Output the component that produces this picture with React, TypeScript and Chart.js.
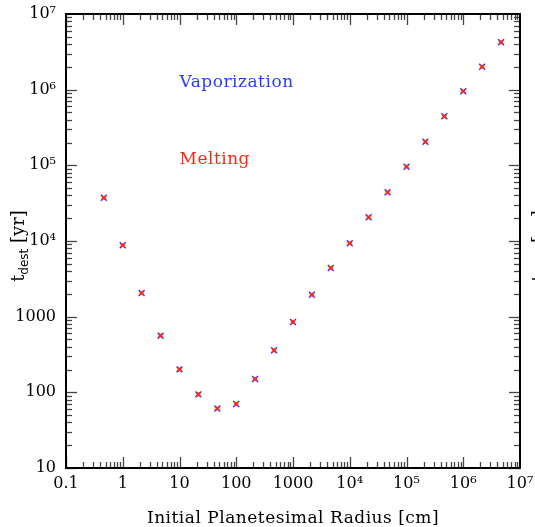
import React, { useEffect, useRef } from "react";
import { Chart, registerables } from "chart.js";

Chart.register(...registerables);

// ---- data ----
const radiusCm = [
  0.464, 1, 2.15, 4.64, 10, 21.5, 46.4, 100, 215, 464, 1000, 2150, 4640,
  10000, 21500, 46400, 100000, 215000, 464000, 1000000, 2150000, 4640000,
];
const tVaporization = [
  37300, 8770, 2055, 561, 201, 94, 61, 70, 150, 359, 850, 1950, 4400, 9320,
  20600, 44000, 95900, 205000, 445000, 951000, 2010000, 4230000,
];
const tMelting = [
  37300, 8770, 2055, 561, 201, 94, 61, 70, 150, 359, 850, 1950, 4400, 9320,
  20600, 44000, 95900, 205000, 445000, 951000, 2010000, 4230000,
];
const xTickValues = [0.1, 1, 10, 100, 1000, 1e4, 1e5, 1e6, 1e7];
const xTickLabels = ["0.1", "1", "10", "100", "1000", "10\u2074", "10\u2075", "10\u2076", "10\u2077"];
const yTickValues = [10, 100, 1000, 1e4, 1e5, 1e6, 1e7];
const yTickLabels = ["10", "100", "1000", "10\u2074", "10\u2075", "10\u2076", "10\u2077"];
const xTitle = "Initial Planetesimal Radius [cm]";
const vapLabel = { text: "Vaporization", x: 10, y: 1.08e6 };
const meltLabel = { text: "Melting", x: 10, y: 1.04e5 };

const BLUE = "rgb(40,60,255)";
const RED = "rgb(255,40,20)";
const FONT = "'DejaVu Serif', serif";

const decorPlugin = {
  id: "decor",
  afterDraw(chart: any) {
    const { ctx, chartArea: a, scales } = chart;
    const xs = scales.x;
    const ys = scales.y;
    ctx.save();
    const line = (x1: number, y1: number, x2: number, y2: number) => {
      ctx.beginPath();
      ctx.moveTo(x1, y1);
      ctx.lineTo(x2, y2);
      ctx.stroke();
    };
    ctx.strokeStyle = "#444";
    ctx.lineWidth = 1.3;
    for (let d = -1; d <= 6; d++) {
      for (let m = 1; m <= 9; m++) {
        const v = m * Math.pow(10, d);
        const px = Math.round(xs.getPixelForValue(v)) + 0.5;
        const len = m === 1 ? 11 : 6;
        line(px, a.bottom, px, a.bottom - len);
        line(px, a.top, px, a.top + len);
      }
    }
    for (let d = 1; d <= 6; d++) {
      for (let m = 1; m <= 9; m++) {
        const v = m * Math.pow(10, d);
        const py = Math.round(ys.getPixelForValue(v)) + 0.5;
        const len = m === 1 ? 11 : 6;
        line(a.left, py, a.left + len, py);
        line(a.right, py, a.right - len, py);
      }
    }
    ctx.strokeStyle = "#000";
    ctx.lineWidth = 2;
    ctx.strokeRect(a.left, a.top, a.right - a.left, a.bottom - a.top);

    // in-plot labels
    ctx.font = `17px ${FONT}`;
    (ctx as any).letterSpacing = "0.5px";
    ctx.textAlign = "left";
    ctx.textBaseline = "alphabetic";
    ctx.fillStyle = BLUE;
    ctx.fillText(vapLabel.text, xs.getPixelForValue(vapLabel.x), ys.getPixelForValue(vapLabel.y));
    ctx.fillStyle = RED;
    ctx.fillText(meltLabel.text, xs.getPixelForValue(meltLabel.x), ys.getPixelForValue(meltLabel.y));

    // x axis title
    ctx.fillStyle = "#000";
    ctx.textAlign = "center";
    ctx.fillText(xTitle, (a.left + a.right) / 2, 523);
    (ctx as any).letterSpacing = "0px";

    // y axis title: t_dest [yr]
    const drawYTitle = (baseX: number, centerY: number) => {
      ctx.save();
      ctx.translate(baseX, centerY);
      ctx.rotate(-Math.PI / 2);
      ctx.fillStyle = "#000";
      ctx.textAlign = "left";
      ctx.textBaseline = "alphabetic";
      const big = `18px ${FONT}`;
      const small = `12px 'DejaVu Sans', sans-serif`;
      ctx.font = big;
      const wT = ctx.measureText("t").width;
      const wB = ctx.measureText(" [yr]").width;
      ctx.font = small;
      const wS = ctx.measureText("dest").width;
      let x0 = -(wT + wS + wB) / 2;
      ctx.font = big;
      ctx.fillText("t", x0, 0);
      x0 += wT;
      ctx.font = small;
      ctx.fillText("dest", x0, 4);
      x0 += wS;
      ctx.font = big;
      ctx.fillText(" [yr]", x0, 0);
      ctx.restore();
    };
    drawYTitle(24, 246);
    drawYTitle(24 + 521, 246);
    ctx.restore();
  },
};

export default function App() {
  const ref = useRef<HTMLCanvasElement | null>(null);
  useEffect(() => {
    if (!ref.current) return;
    const chart = new Chart(ref.current, {
      type: "scatter",
      data: {
        datasets: [
          {
            label: "Melting",
            data: radiusCm.map((r, i) => ({ x: r, y: tMelting[i] })),
            pointStyle: "crossRot",
            radius: 2.6,
            borderWidth: 2,
            borderColor: RED,
            backgroundColor: RED,
            order: 0,
          },
          {
            label: "Vaporization",
            data: radiusCm.map((r, i) => ({ x: r, y: tVaporization[i] })),
            pointStyle: "crossRot",
            radius: 4.2,
            borderWidth: 1.4,
            borderColor: BLUE,
            backgroundColor: BLUE,
            order: 1,
          },
        ],
      },
      options: {
        responsive: false,
        animation: false,
        events: [],
        layout: { padding: { left: 0, right: 15, top: 14, bottom: 0 } },
        plugins: { legend: { display: false }, tooltip: { enabled: false } },
        scales: {
          x: {
            type: "logarithmic",
            min: 0.1,
            max: 1e7,
            grid: { display: false, drawTicks: false },
            border: { display: false },
            afterBuildTicks: (s: any) => {
              s.ticks = xTickValues.map((v) => ({ value: v }));
            },
            afterFit: (s: any) => {
              s.height = 59;
              s.paddingLeft = 0;
              s.paddingRight = 0;
            },
            ticks: {
              autoSkip: false,
              maxRotation: 0,
              padding: 6,
              color: "#000",
              font: { family: FONT, size: 16 },
              callback: (v: any) => {
                const i = xTickValues.findIndex((t) => Math.abs(Math.log10(t) - Math.log10(v)) < 1e-6);
                return i >= 0 ? xTickLabels[i] : "";
              },
            },
          },
          y: {
            type: "logarithmic",
            min: 10,
            max: 1e7,
            grid: { display: false, drawTicks: false },
            border: { display: false },
            afterBuildTicks: (s: any) => {
              s.ticks = yTickValues.map((v) => ({ value: v }));
            },
            afterFit: (s: any) => {
              s.width = 66;
              s.paddingTop = 0;
              s.paddingBottom = 0;
            },
            ticks: {
              autoSkip: false,
              padding: 10,
              color: "#000",
              font: { family: FONT, size: 16 },
              callback: (v: any) => {
                const i = yTickValues.findIndex((t) => Math.abs(Math.log10(t) - Math.log10(v)) < 1e-6);
                return i >= 0 ? yTickLabels[i] : "";
              },
            },
          },
        },
      },
      plugins: [decorPlugin],
    });
    return () => chart.destroy();
  }, []);
  return (
    <div style={{ position: "fixed", left: 0, top: 0, background: "#fff" }}>
      <canvas ref={ref} width={535} height={527} style={{ display: "block" }} />
    </div>
  );
}
